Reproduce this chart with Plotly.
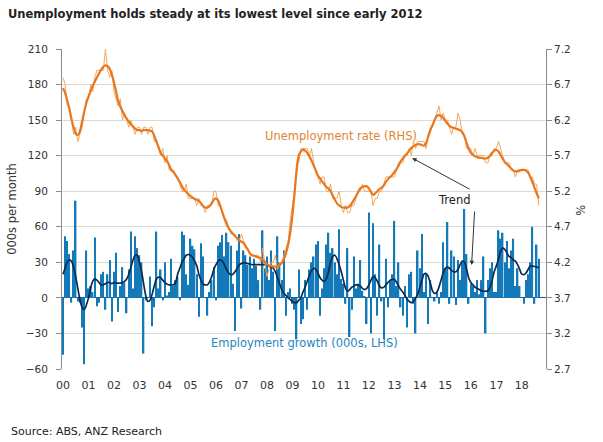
import pandas as pd
import plotly.graph_objects as go

# ---------------- data ----------------
start_month = "2000-01-01"

# Monthly employment change, 000s (LHS)
emp_growth = [
    -48, 52, 48, 37, -4, 40, 82, -3, -4, -25, -56, 40,      # 2000
    8, 10, 5, 51, -7, -4, 20, 22, -10, 20, 32, -20,         # 2001
    22, 38, -12, 10, 26, 13, -13, 24, 56, 8, 52, 42,        # 2002
    36, 30, -47, -2, 0, 18, -24, -8, 56, 8, 24, -2,         # 2003
    30, 2, 5, 33, 10, 15, 18, -2, 56, 53, 20, 11,           # 2004
    50, 44, 41, 20, -16, 46, 35, 0, -15, 5, 15, 26,         # 2005
    -2, 44, 47, 53, 35, 55, 47, 44, 12, -28, 40, 54,        # 2006
    -9, 40, 36, 28, 35, 25, 33, 27, 15, -10, 57, 25,        # 2007
    35, 15, 40, 22, -28, 52, 30, 15, 40, -15, 5, 8,         # 2008
    -5, -10, -35, 24, -22, -18, 15, -10, 24, 30, 35, 45,    # 2009
    48, -15, 8, 25, 45, 55, 38, 42, 30, 20, 58, 16,         # 2010
    12, -5, 42, -33, -10, 35, 8, 12, 32, 6, 1, -22,         # 2011
    72, -30, 63, 20, -15, 45, -3, -35, 33, -8, 15, 20,      # 2012
    65, 10, 30, -8, -15, 10, -25, 20, 22, -5, -30, 40,      # 2013
    25, 54, 5, 20, -22, 15, 0, -3, 5, -5, 5, 47,            # 2014
    25, 64, -5, 40, 35, -6, 32, 15, 30, 75, 37, -5,         # 2015
    12, 10, 5, 15, 3, 15, 35, -30, 15, 25, 30, 5,           # 2016
    5, 57, 50, 55, 30, 48, 25, 40, 50, 10, 25, 10,          # 2017
    0, -5, 15, 20, 30, 60, -5, 45, 33,                      # 2018
]

# Employment growth trend, 000s (LHS)
emp_trend = [
    20, 25, 30, 32, 31, 26, 18, 8, -2, -8, -10, -6,
    0, 8, 14, 16, 15, 13, 11, 11, 12, 13, 13, 12,
    13, 12.5, 12.4, 12.4, 13, 14, 16, 20, 26, 32, 36, 36,
    30, 22, 12, 2, -3, -2, 3, 10, 16, 17.5, 17, 15,
    13, 11.5, 11, 10.7, 11, 13, 20, 25, 30, 33, 36, 36.6,
    36, 34, 31, 27, 20, 15, 11.5, 11, 11, 13.5, 18, 24,
    28, 31, 32, 31, 28, 24, 21, 19.7, 20, 22, 25, 28,
    29, 29.6, 29.6, 29, 28.5, 28, 28, 28, 28, 28, 28, 28,
    28, 27, 26, 25, 22, 17, 12, 7, 4, 2, 0, -1.4,
    -3, -4, -4, -2, 0, 5, 9, 14, 19, 23, 25, 24,
    21, 17, 15, 14, 16, 22, 30, 35, 36, 33, 28, 22,
    15, 8, 5.6, 7, 9, 10, 11, 11, 10, 8, 7, 8,
    11, 15, 18, 17, 14, 10, 8.5, 9, 11, 13, 15, 15.5,
    15.5, 13, 10, 7, 5, 2, -1, -3, -4, -3, 0, 3,
    9, 15, 20, 20.6, 18, 12, 6, 3.7, 5, 9, 15, 21,
    25, 26, 25, 23, 22, 22, 24, 28, 31, 30, 24, 17,
    13, 11, 9, 8, 7, 6, 5.6, 5.6, 6, 9, 15, 22,
    27, 33, 39, 42, 41, 38, 35, 34, 32, 31, 28, 24,
    20, 19.7, 21, 24, 26.8, 27, 26.5, 26, 25.5,
]

# Unemployment rate, % (RHS)
unemp_rate = [
    6.8, 6.7, 6.4, 6.4, 6.2, 6.0, 6.1, 5.9, 6.0, 6.1, 6.3, 6.5,
    6.5, 6.7, 6.6, 6.8, 6.9, 6.9, 6.9, 6.9, 7.2, 6.9, 6.8, 6.9,
    6.6, 6.5, 6.4, 6.5, 6.2, 6.3, 6.2, 6.1, 6.2, 6.1, 6.0, 6.1,
    6.1, 6.0, 6.1, 6.1, 6.0, 6.1, 6.1, 5.9, 5.9, 5.8, 5.7, 5.8,
    5.6, 5.7, 5.5, 5.5, 5.5, 5.4, 5.4, 5.3, 5.2, 5.2, 5.3, 5.1,
    5.1, 5.1, 5.1, 5.0, 5.1, 5.0, 5.0, 4.9, 5.0, 5.0, 5.0, 5.2,
    5.2, 5.0, 5.0, 4.9, 4.8, 4.8, 4.7, 4.6, 4.6, 4.6, 4.5, 4.5,
    4.6, 4.5, 4.4, 4.4, 4.3, 4.3, 4.3, 4.3, 4.3, 4.2, 4.4, 4.2,
    4.0, 4.1, 4.2, 4.2, 4.3, 4.1, 4.2, 4.2, 4.3, 4.4, 4.5, 4.8,
    5.0, 5.2, 5.6, 5.6, 5.8, 5.8, 5.8, 5.8, 5.7, 5.8, 5.6, 5.5,
    5.4, 5.3, 5.4, 5.4, 5.2, 5.2, 5.3, 5.1, 5.1, 5.1, 5.2, 5.0,
    4.9, 5.0, 4.9, 4.9, 5.0, 5.0, 5.1, 5.2, 5.2, 5.3, 5.2, 5.2,
    5.2, 5.2, 5.0, 5.1, 5.1, 5.2, 5.2, 5.3, 5.4, 5.4, 5.4, 5.4,
    5.4, 5.5, 5.6, 5.6, 5.6, 5.7, 5.7, 5.8, 5.7, 5.9, 5.8, 5.9,
    5.9, 5.9, 5.9, 5.8, 6.0, 6.1, 6.1, 6.2, 6.3, 6.4, 6.2, 6.3,
    6.2, 6.2, 6.1, 6.0, 6.1, 6.1, 6.3, 6.2, 6.0, 6.0, 5.8, 5.8,
    5.8, 5.7, 5.8, 5.7, 5.7, 5.7, 5.7, 5.6, 5.6, 5.7, 5.7, 5.8,
    5.8, 5.9, 5.8, 5.7, 5.6, 5.6, 5.6, 5.5, 5.5, 5.4, 5.5, 5.5,
    5.5, 5.5, 5.5, 5.5, 5.4, 5.4, 5.3, 5.3, 5.0,
]

# Unemployment rate trend, % (RHS)
unemp_trend = [
    6.65, 6.58, 6.48, 6.36, 6.22, 6.10, 6.01, 5.99, 6.05, 6.18, 6.32, 6.44,
    6.53, 6.61, 6.68, 6.74, 6.80, 6.86, 6.91, 6.95, 6.97, 6.96, 6.92, 6.84,
    6.73, 6.60, 6.47, 6.39, 6.33, 6.27, 6.22, 6.18, 6.14, 6.11, 6.08, 6.06,
    6.06, 6.05, 6.06, 6.06, 6.06, 6.05, 6.04, 5.98, 5.90, 5.82, 5.74, 5.70,
    5.66, 5.62, 5.57, 5.50, 5.47, 5.43, 5.38, 5.33, 5.27, 5.22, 5.19, 5.16,
    5.13, 5.11, 5.09, 5.08, 5.06, 5.03, 4.99, 4.97, 4.97, 4.99, 5.03, 5.08,
    5.10, 5.07, 5.00, 4.91, 4.82, 4.74, 4.68, 4.64, 4.60, 4.57, 4.54, 4.51,
    4.49, 4.47, 4.43, 4.38, 4.33, 4.30, 4.29, 4.28, 4.27, 4.26, 4.24, 4.21,
    4.17, 4.16, 4.15, 4.14, 4.14, 4.14, 4.16, 4.19, 4.25, 4.33, 4.45, 4.62,
    4.87, 5.18, 5.48, 5.70, 5.76, 5.78, 5.77, 5.74, 5.69, 5.63, 5.56, 5.49,
    5.42, 5.38, 5.34, 5.30, 5.26, 5.24, 5.20, 5.14, 5.08, 5.03, 5.00, 4.98,
    4.97, 4.97, 4.97, 4.99, 5.03, 5.08, 5.13, 5.19, 5.24, 5.26, 5.27, 5.27,
    5.24, 5.19, 5.15, 5.17, 5.20, 5.23, 5.25, 5.28, 5.33, 5.37, 5.40, 5.43,
    5.47, 5.51, 5.56, 5.62, 5.66, 5.70, 5.73, 5.77, 5.81, 5.83, 5.85, 5.86,
    5.86, 5.85, 5.84, 5.88, 5.97, 6.06, 6.13, 6.20, 6.26, 6.27, 6.26, 6.23,
    6.19, 6.15, 6.12, 6.10, 6.09, 6.08, 6.07, 6.06, 6.03, 5.97, 5.88, 5.80,
    5.74, 5.71, 5.69, 5.68, 5.67, 5.67, 5.66, 5.66, 5.67, 5.70, 5.74, 5.77,
    5.78, 5.76, 5.71, 5.66, 5.61, 5.58, 5.55, 5.52, 5.49, 5.48, 5.48, 5.49,
    5.50, 5.50, 5.49, 5.46, 5.40, 5.33, 5.25, 5.17, 5.10,
]

year_ticks = list(range(2000, 2019))
year_labels = ["%02d" % (y % 100) for y in year_ticks]

# ---------------- figure ----------------
months = pd.date_range(start_month, periods=len(emp_growth), freq="MS")

BAR = "#1479b8"
NAVY = "#0c2a4d"
ORANGE = "#e8771e"
ORANGE_LIGHT = "#f2a860"
FONT = "DejaVu Sans"
TXT = "#333333"

fig = go.Figure()
fig.add_trace(go.Bar(x=months, y=emp_growth, marker_color=BAR,
                     marker_line_width=0, yaxis="y", name="Employment growth"))
fig.add_trace(go.Scatter(x=months, y=emp_trend, mode="lines", yaxis="y",
                         line=dict(color=NAVY, width=1.7, shape="spline"),
                         name="Employment trend"))
fig.add_trace(go.Scatter(x=months, y=unemp_rate, mode="lines", yaxis="y2",
                         line=dict(color=ORANGE_LIGHT, width=1),
                         name="Unemployment rate"))
fig.add_trace(go.Scatter(x=months, y=unemp_trend, mode="lines", yaxis="y2",
                         line=dict(color=ORANGE, width=2.2, shape="spline"),
                         name="Unemployment trend"))

fig.update_layout(
    width=603, height=442, autosize=False,
    margin=dict(l=58, r=57, t=49, b=73),
    paper_bgcolor="white", plot_bgcolor="white",
    showlegend=False, bargap=0.25,
    font=dict(family=FONT, size=11, color=TXT),
    title=dict(text="<b>Unemployment holds steady at its lowest level since early 2012</b>",
               xref="container", yref="container", x=8 / 603, xanchor="left",
               y=1 - 14 / 442, yanchor="middle",
               font=dict(family=FONT, size=11.5, color="#222222")),
    xaxis=dict(type="date", range=["1999-12-18", "2018-12-13"],
               tickmode="array", tickvals=[pd.Timestamp(f"{y}-01-01") for y in year_ticks],
               ticktext=year_labels, ticks="outside", ticklen=6,
               tickcolor="rgba(0,0,0,0)", showgrid=False, showline=False,
               tickfont=dict(size=11, color=TXT)),
    yaxis=dict(range=[-60, 210], dtick=30, tick0=0, showgrid=True,
               gridcolor="#d9d9d9", gridwidth=1, zeroline=True,
               zerolinecolor="#1b5f91", zerolinewidth=1,
               showline=True, linecolor="#8c8c8c", linewidth=1,
               ticks="outside", ticklen=5, tickcolor="#8c8c8c",
               ticklabelstandoff=6,
               title=dict(text="000s per month", font=dict(size=11.5, color=TXT), standoff=6),
               tickfont=dict(size=10.5, color=TXT)),
    yaxis2=dict(range=[2.7, 7.2], dtick=0.5, tick0=2.7, overlaying="y", side="right",
                showgrid=False, zeroline=False, tickformat=".1f",
                showline=True, linecolor="#8c8c8c", linewidth=1,
                ticks="outside", ticklen=5, tickcolor="#8c8c8c",
                tickfont=dict(size=10.5, color=TXT)),
)

W, H0, H1 = 488.0, 49.0, 369.0
def px(xp):
    return (xp - 58) / W
def py(yp):
    return (H1 - yp) / (H1 - H0)

fig.add_annotation(text="%", xref="paper", yref="paper", x=px(590), y=py(210),
                   textangle=-90, showarrow=False,
                   font=dict(size=11.5, color=TXT))
fig.add_annotation(text="Unemployment rate (RHS)", xref="paper", yref="paper",
                   x=px(339), y=py(127), showarrow=False,
                   font=dict(size=11.5, color="#e2842f"))
fig.add_annotation(text="Employment growth (000s, LHS)", xref="paper", yref="paper",
                   x=px(303), y=py(352), showarrow=False,
                   font=dict(size=11.5, color="#1f86c0"))
fig.add_annotation(text="Trend", xref="paper", yref="paper",
                   x=px(471), y=py(200), showarrow=False,
                   font=dict(size=11.5, color="#222222"))
fig.add_annotation(text="", xref="paper", yref="paper", x=px(411), y=py(158),
                   ax=59, ay=32, showarrow=True, arrowhead=2, arrowsize=0.9,
                   arrowwidth=1, arrowcolor="#333333")
fig.add_annotation(text="", xref="paper", yref="paper", x=px(471), y=py(265),
                   ax=3, ay=-55, showarrow=True, arrowhead=2, arrowsize=0.9,
                   arrowwidth=1, arrowcolor="#333333")
fig.add_annotation(text="Source: ABS, ANZ Research", xref="paper", yref="paper",
                   x=px(5), y=py(431), xanchor="left", yanchor="middle", showarrow=False,
                   font=dict(size=11, color="#222222"))

fig.write_html("out.html", config={"displayModeBar": False},
               post_script="document.body.style.margin='0px';")
